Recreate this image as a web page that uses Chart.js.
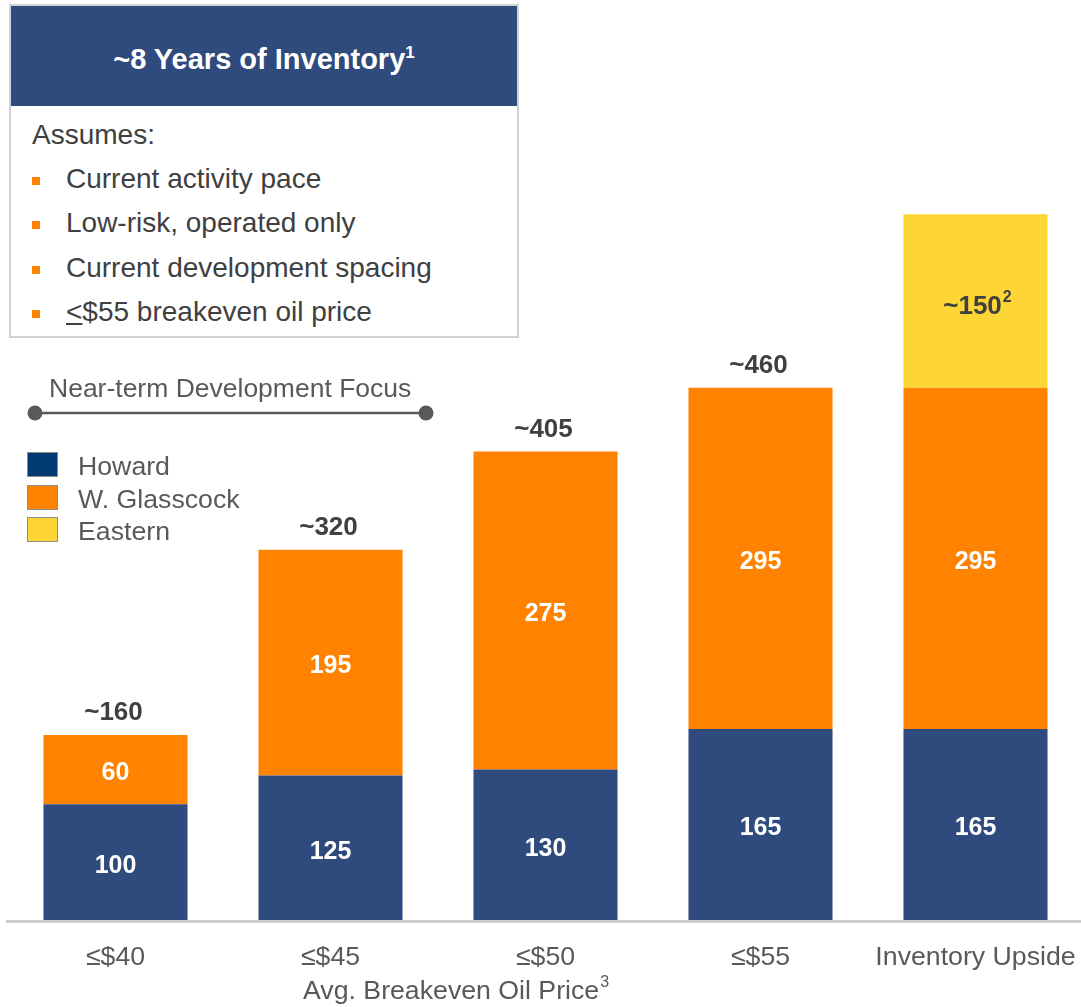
<!DOCTYPE html>
<html>
<head>
<meta charset="utf-8">
<script src="https://cdn.jsdelivr.net/npm/chart.js@4.4.1/dist/chart.umd.min.js"></script>
<style>
  html, body { margin: 0; padding: 0; background: #fff; width: 1081px; height: 1007px; overflow: hidden; }
  #wrap { position: relative; width: 1081px; height: 1007px; overflow: hidden; font-family: "Liberation Sans", Arial, sans-serif; }
  canvas { position: absolute; left: 0; top: 0; }
  .abs { position: absolute; white-space: nowrap; }
  #box { position: absolute; left: 9px; top: 4px; width: 510px; height: 334px; box-sizing: border-box; border: 2px solid #D2D2D2; background: #fff; }
  #hdr { position: absolute; left: 0; top: 0; width: 506px; height: 100px; background: #2F4A7C; color: #fff; font-weight: bold; font-size: 29px; line-height: 100px; text-align: center; }
  #hdr span.t { position: relative; top: 3px; }
  #hdr sup { font-size: 17px; vertical-align: 0; position: relative; top: -11px; }
  .btxt { font-size: 28px; color: #404040; line-height: 30px; }
  .bul { position: absolute; width: 8px; height: 8px; background: #FF8200; }
  .leg { font-size: 26.7px; color: #595959; line-height: 30px; }
  .sw { position: absolute; width: 29px; height: 23px; border: 1px solid #8C8C8C; }
</style>
</head>
<body>
<div id="wrap">
  <canvas id="c" width="1083" height="1007" style="width:1083px;height:1007px"></canvas>
  <div id="box">
    <div id="hdr"><span class="t">~8 Years of Inventory<sup>1</sup></span></div>
  </div>
  <div id="ann"></div>
</div>
<script>
// ---- data ----
const categories = ['≤$40', '≤$45', '≤$50', '≤$55', 'Inventory Upside'];
const seriesNames = ['Howard', 'W. Glasscock', 'Eastern'];
const howard = [100, 125, 130, 165, 165];
const glasscock = [60, 195, 275, 295, 295];
const eastern = [null, null, null, null, 150];
const totalLabels = ['~160', '~320', '~405', '~460', null];
const easternLabels = [null, null, null, null, '~150'];
const boxIntro = 'Assumes:';
const boxBullets = ['Current activity pace', 'Low-risk, operated only', 'Current development spacing', '≤$55 breakeven oil price'];
const focusLabel = 'Near-term Development Focus';
const axisTitle = 'Avg. Breakeven Oil Price';

// ---- styling ----
const barColors = ['#2F4A7C', '#FF8200', '#FDD535'];
const swatchColors = ['#003A70', '#FF8200', '#FDD535'];
const FONT = '"Liberation Sans", Arial, sans-serif';

// ---- HTML annotations (box text, legend) ----
const box = document.getElementById('box');
function addAbs(parent, cls, text, left, centerY, lh) {
  const d = document.createElement('div');
  d.className = 'abs ' + cls;
  d.textContent = text;
  d.style.left = left + 'px';
  d.style.top = (centerY - lh / 2) + 'px';
  parent.appendChild(d);
  return d;
}
addAbs(box, 'btxt', boxIntro, 32 - 11, 135 - 6, 30);
const bulletYs = [179, 223, 268, 312];
boxBullets.forEach((t, i) => {
  const d = addAbs(box, 'btxt', '', 66 - 11, bulletYs[i] - 6, 30);
  if (t.startsWith('≤')) {
    const u = document.createElement('span');
    u.textContent = '<';
    u.style.textDecoration = 'underline';
    d.appendChild(u);
    d.appendChild(document.createTextNode(t.slice(1)));
  } else {
    d.textContent = t;
  }
  const b = document.createElement('div');
  b.className = 'bul';
  b.style.left = (32 - 11) + 'px';
  b.style.top = (bulletYs[i] - 2 - 6) + 'px';
  box.appendChild(b);
});

const ann = document.getElementById('ann');
const focus = addAbs(ann, 'leg', focusLabel, 49, 388, 30);
focus.style.fontSize = '26.5px';
const legYs = [466, 499, 531];
seriesNames.forEach((n, i) => {
  addAbs(ann, 'leg', n, 78, legYs[i], 30);
  const s = document.createElement('div');
  s.className = 'sw';
  s.style.left = '27px';
  s.style.top = (legYs[i] - 14) + 'px';
  s.style.background = swatchColors[i];
  ann.appendChild(s);
});

// ---- chart ----
const labelPlugin = {
  id: 'labels',
  afterDatasetsDraw(chart) {
    const ctx = chart.ctx;
    const area = chart.chartArea;
    const xs = chart.scales.x;
    ctx.save();
    // baseline axis line
    ctx.strokeStyle = '#CCCCCC';
    ctx.lineWidth = 3;
    ctx.beginPath();
    ctx.moveTo(6, area.bottom + 1.5);
    ctx.lineTo(1083, area.bottom + 1.5);
    ctx.stroke();

    ctx.textAlign = 'center';
    ctx.textBaseline = 'middle';
    // category tick labels
    ctx.fillStyle = '#595959';
    ctx.font = '26.7px ' + FONT;
    chart.data.labels.forEach((lab, i) => {
      ctx.fillText(lab, xs.getPixelForValue(i), area.bottom + 38);
    });
    // segment values
    [0, 1].forEach(di => {
      const meta = chart.getDatasetMeta(di);
      const vals = chart.data.datasets[di].data;
      meta.data.forEach((bar, i) => {
        if (vals[i] == null) return;
        ctx.fillStyle = '#FFFFFF';
        ctx.font = 'bold 25px ' + FONT;
        ctx.fillText(String(vals[i]), bar.x, (bar.y + bar.base) / 2 + 4);
      });
    });
    // totals above bars
    const gMeta = chart.getDatasetMeta(1);
    gMeta.data.forEach((bar, i) => {
      if (!totalLabels[i]) return;
      ctx.fillStyle = '#404040';
      ctx.font = 'bold 26px ' + FONT;
      ctx.fillText(totalLabels[i], bar.x - 2, bar.y - 22);
    });
    // eastern label with superscript
    const eMeta = chart.getDatasetMeta(2);
    eMeta.data.forEach((bar, i) => {
      if (!easternLabels[i]) return;
      ctx.fillStyle = '#404040';
      ctx.font = 'bold 26px ' + FONT;
      const w1 = ctx.measureText(easternLabels[i]).width;
      ctx.font = 'bold 16px ' + FONT;
      const w2 = ctx.measureText('2').width;
      const x0 = bar.x - (w1 + w2 + 1) / 2 + 2;
      const cy = (bar.y + bar.base) / 2 + 6;
      ctx.textAlign = 'left';
      ctx.font = 'bold 26px ' + FONT;
      ctx.fillText(easternLabels[i], x0, cy);
      ctx.font = 'bold 16px ' + FONT;
      ctx.fillText('2', x0 + w1 + 1, cy - 9);
      ctx.textAlign = 'center';
    });
    // axis title with superscript
    ctx.textAlign = 'left';
    ctx.fillStyle = '#595959';
    ctx.font = '26.7px ' + FONT;
    const tx = 303, ty = 992;
    ctx.fillText(axisTitle, tx, ty);
    const tw = ctx.measureText(axisTitle).width;
    ctx.font = '16px ' + FONT;
    ctx.fillText('3', tx + tw + 1, ty - 9);

    // near-term focus line
    ctx.strokeStyle = '#595959';
    ctx.fillStyle = '#595959';
    ctx.lineWidth = 2.5;
    ctx.beginPath();
    ctx.moveTo(35, 413);
    ctx.lineTo(426, 413);
    ctx.stroke();
    [35, 426].forEach(x => {
      ctx.beginPath();
      ctx.arc(x, 413, 7.5, 0, Math.PI * 2);
      ctx.fill();
    });
    ctx.restore();
  }
};

new Chart(document.getElementById('c'), {
  type: 'bar',
  data: {
    labels: categories,
    datasets: [
      { label: seriesNames[0], data: howard, backgroundColor: barColors[0] },
      { label: seriesNames[1], data: glasscock, backgroundColor: barColors[1] },
      { label: seriesNames[2], data: eastern, backgroundColor: barColors[2] }
    ]
  },
  options: {
    responsive: false,
    animation: false,
    devicePixelRatio: 1,
    layout: { padding: { left: 8, right: 0, top: 6, bottom: 0 } },
    datasets: { bar: { categoryPercentage: 1, barPercentage: 0.67, borderWidth: 0 } },
    plugins: { legend: { display: false }, tooltip: { enabled: false }, title: { display: false } },
    scales: {
      x: {
        stacked: true,
        grid: { display: false, drawTicks: false },
        border: { display: false },
        ticks: { display: false },
        afterFit(scale) { scale.height = 87; }
      },
      y: {
        stacked: true,
        display: false,
        min: 0,
        max: 790
      }
    }
  },
  plugins: [labelPlugin]
});
</script>
</body>
</html>
